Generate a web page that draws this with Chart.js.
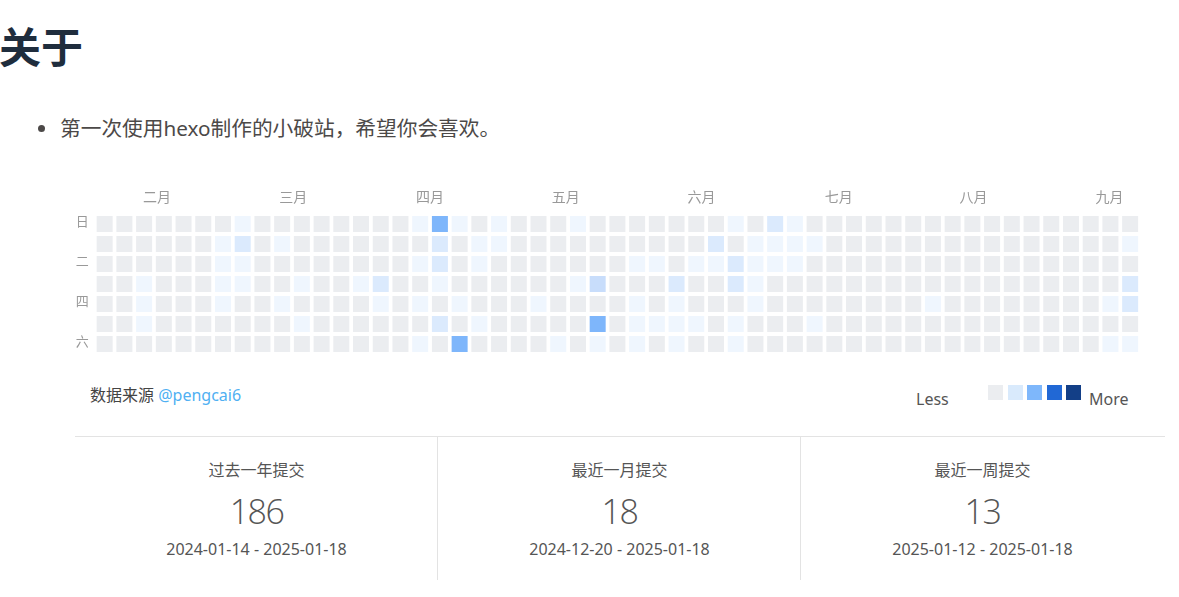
<!DOCTYPE html>
<html><head><meta charset="utf-8">
<script src="https://cdn.jsdelivr.net/npm/chart.js@4"></script>
<style>
html,body{margin:0;padding:0;background:#fff;width:1179px;height:597px;overflow:hidden;font-family:"Noto Sans","Noto Sans CJK SC",sans-serif;}
.abs{position:absolute;white-space:nowrap;}
#title{left:-1px;top:24px;font-size:42px;line-height:42px;font-weight:700;color:#1f2d3d;font-family:"Noto Sans CJK SC",sans-serif;}
#bullet{left:38px;top:125px;width:7px;height:7px;border-radius:50%;background:#4c4948;}
#intro{left:60px;top:118px;font-size:20.7px;line-height:20px;color:#4c4948;}
#src{left:90px;top:387px;font-size:16px;line-height:16px;color:#444;}
#src span{color:#4fb0f2;}
#less{left:916px;top:391px;font-size:16px;line-height:16px;color:#555;}
#more{left:1089px;top:391px;font-size:16px;line-height:16px;color:#555;}
.sq{position:absolute;top:385px;width:15px;height:15px;}
#hline{left:75px;top:436px;width:1090px;height:1px;background:#e3e3e3;}
.vline{position:absolute;top:437px;width:1px;height:143px;background:#e3e3e3;}
.col{position:absolute;top:437px;width:363px;text-align:center;color:#555;}
.lab{position:absolute;left:0;width:100%;top:25px;font-size:16px;line-height:16px;}
.num{position:absolute;left:0;width:100%;top:57px;font-size:34px;line-height:34px;font-weight:300;letter-spacing:-1.5px;font-family:"Open Sans","Noto Sans",sans-serif;color:#555;}
.date{position:absolute;left:0;width:100%;top:104px;font-size:16px;line-height:16px;}
#wrap{position:absolute;left:0;top:180px;width:1179px;height:180px;}
</style></head><body>
<div class="abs" id="title">关于</div>
<div class="abs" id="bullet"></div>
<div class="abs" id="intro">第一次使用hexo制作的小破站，希望你会喜欢。</div>
<div id="wrap"><canvas id="c"></canvas></div>
<div class="abs" id="src">数据来源 <span>@pengcai6</span></div>
<div class="abs" id="less">Less</div>
<div class="abs" id="more">More</div>
<div id="legend"></div>
<div class="abs" id="hline"></div>
<div class="vline" style="left:437px"></div>
<div class="vline" style="left:800px"></div>
<div id="stats"></div>
<script>
// ---- data ----
const monthLabels = ['二月','三月','四月','五月','六月','七月','八月','九月'];
const monthTickPos = [2.66, 9.56, 16.5, 23.38, 30.27, 37.23, 44.06, 50.95];
const weekdayLabels = ['日','','二','','四','','六'];
const sun = [0,0,0,0,0,0,0,1,0,0, 0,0,0,0,0,0,1,4,1,0, 1,0,0,0,1,0,0,0,0,0, 0,0,1,0,2,1,0,0,0,0, 0,0,0,0,0,0,0,0,0,0, 0,0,0];
const mon = [0,0,0,0,0,0,1,2,0,1, 0,0,0,0,0,0,0,2,0,1, 1,0,0,0,0,0,0,0,0,0, 0,2,0,1,1,1,1,0,0,0, 0,0,0,0,0,0,0,0,0,0, 0,0,1];
const tue = [0,0,0,0,0,0,1,1,0,0, 0,0,0,0,0,0,1,2,0,1, 0,0,0,0,0,0,0,1,1,0, 1,1,2,1,1,1,0,0,0,0, 0,0,0,0,0,0,0,0,0,0, 0,0,0];
const wed = [0,0,1,0,0,0,1,1,0,0, 1,0,0,1,2,0,0,1,0,0, 0,0,0,0,1,3,0,0,0,2, 0,0,2,1,0,0,0,0,0,0, 0,0,0,0,0,0,0,0,0,0, 0,0,2];
const thu = [0,0,1,0,0,0,1,0,0,1, 0,0,0,0,1,0,1,0,1,0, 0,0,1,0,0,0,0,1,0,1, 0,0,0,1,0,0,0,0,0,0, 0,0,1,0,0,0,0,0,0,0, 0,1,2];
const fri = [0,0,1,0,0,0,0,0,0,0, 1,0,0,0,0,0,0,2,0,1, 0,0,0,0,0,4,0,1,1,1, 1,0,1,0,0,0,1,0,0,0, 0,0,0,0,0,0,0,0,0,0, 0,0,0];
const sat = [0,0,0,0,0,0,0,0,0,0, 0,0,0,0,0,0,1,0,4,0, 0,0,0,1,0,1,0,1,0,1, 0,0,1,0,0,0,0,0,0,0, 0,0,0,0,0,0,0,0,0,0, 0,1,1];
const levelColors = ['#ebedf0','#eff6fe','#dbeafd','#c8ddfb','#7eb6fb'];
const legendColors = ['#ebedf0','#d9eafc','#7eb7fb','#2168d5','#133f87'];
const statLabels = ['过去一年提交','最近一月提交','最近一周提交'];
const statValues = [186, 18, 13];
const statRanges = ['2024-01-14 - 2025-01-18','2024-12-20 - 2025-01-18','2025-01-12 - 2025-01-18'];

// ---- html pieces ----
const lg = document.getElementById('legend');
legendColors.forEach((c,i)=>{
  const d=document.createElement('div'); d.className='sq';
  d.style.left=(988+i*19.5)+'px'; d.style.background=c; lg.appendChild(d);
});
const st = document.getElementById('stats');
statLabels.forEach((l,i)=>{
  const d=document.createElement('div'); d.className='col';
  d.style.left=(75+i*363)+'px';
  d.innerHTML='<div class="lab">'+l+'</div><div class="num">'+statValues[i]+'</div><div class="date">'+statRanges[i]+'</div>';
  st.appendChild(d);
});

// ---- chart ----
const days = [sun,mon,tue,wed,thu,fri,sat];
const points = [];
days.forEach((arr,r)=>arr.forEach((v,k)=>points.push({x:k,y:r,v:v})));
const CELL = 16;
new Chart(document.getElementById('c'),{
  type:'scatter',
  data:{datasets:[{
    data:points,
    pointStyle:'rect',
    pointRadius:CELL/Math.SQRT2,
    pointHoverRadius:CELL/Math.SQRT2,
    borderWidth:0,
    backgroundColor:ctx=>{const p=ctx.raw; return p?levelColors[Math.min(p.v,levelColors.length-1)]:levelColors[0];}
  }]},
  options:{
    responsive:true, maintainAspectRatio:false, animation:false,
    layout:{autoPadding:false,padding:{left:0,right:39,top:0,bottom:6}},
    plugins:{legend:{display:false},tooltip:{enabled:false}},
    events:[],
    scales:{
      x:{type:'linear',position:'top',min:-0.5,max:52.5,
        afterBuildTicks:s=>{s.ticks=monthTickPos.map(v=>({value:v}));},
        afterFit:s=>{s.height=34;s.paddingLeft=0;s.paddingRight=0;},
        ticks:{autoSkip:false,maxRotation:0,padding:9,color:'#999',
          font:{size:14,family:'"Noto Sans CJK SC", sans-serif'},
          callback:(v,i)=>monthLabels[i]},
        grid:{display:false,drawTicks:false},border:{display:false}},
      y:{type:'linear',reverse:true,min:-0.5,max:6.5,
        afterBuildTicks:s=>{s.ticks=weekdayLabels.map((l,i)=>({value:i}));},
        afterFit:s=>{s.width=94.8;s.paddingTop=0;s.paddingBottom=0;},
        ticks:{autoSkip:false,padding:6,color:'#999',labelOffset:-3,
          font:{size:13,family:'"Noto Sans CJK SC", sans-serif'},
          callback:(v)=>weekdayLabels[v]},
        grid:{display:false,drawTicks:false},border:{display:false}}
    }
  }
});
</script>
</body></html>
